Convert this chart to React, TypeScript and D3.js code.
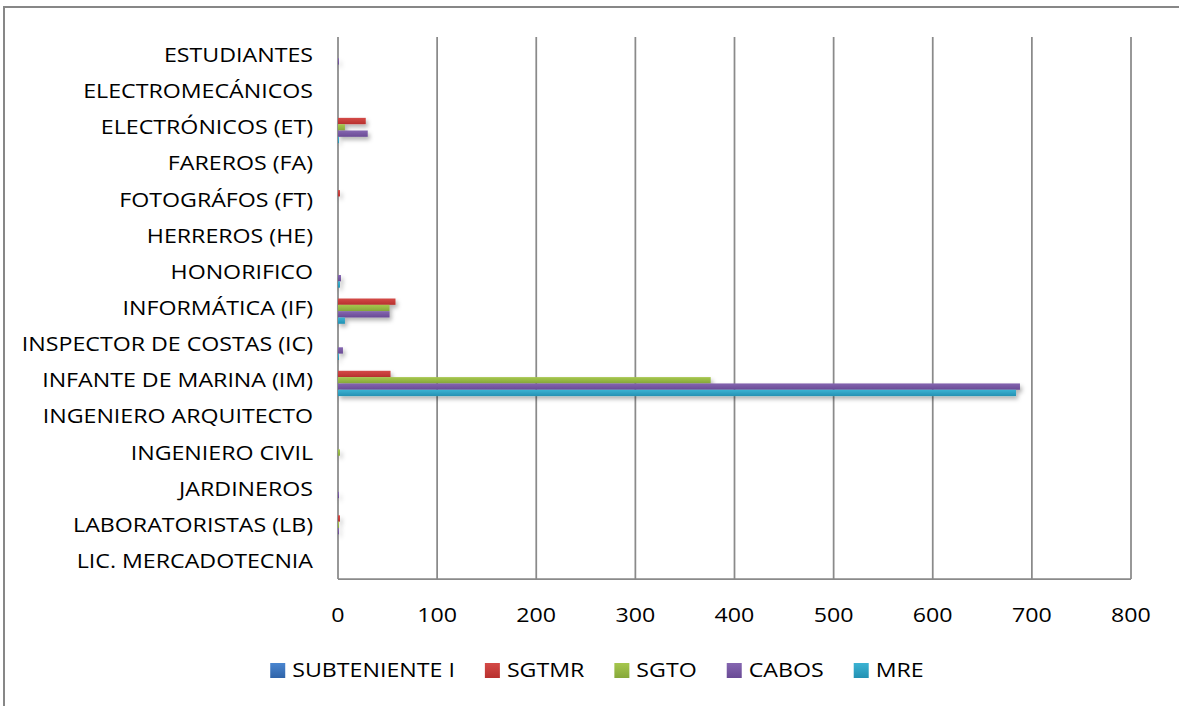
import React, { useEffect, useRef } from "react";
import * as d3 from "d3";

const categories = [
  "ESTUDIANTES",
  "ELECTROMECÁNICOS",
  "ELECTRÓNICOS (ET)",
  "FAREROS (FA)",
  "FOTOGRÁFOS (FT)",
  "HERREROS (HE)",
  "HONORIFICO",
  "INFORMÁTICA (IF)",
  "INSPECTOR DE COSTAS (IC)",
  "INFANTE DE MARINA (IM)",
  "INGENIERO ARQUITECTO",
  "INGENIERO CIVIL",
  "JARDINEROS",
  "LABORATORISTAS (LB)",
  "LIC. MERCADOTECNIA",
];

const seriesNames = ["SUBTENIENTE I", "SGTMR", "SGTO", "CABOS", "MRE"];

const subteniente = [0, 0, 0, 0, 0, 0, 0, 0, 0, 0, 0, 0, 0, 0, 0];
const sgtmr = [0, 0, 28, 0, 2, 0, 0, 58, 0, 53, 0, 0, 0, 2, 0];
const sgto = [0, 0, 7, 0, 0, 0, 0, 52, 0, 376, 0, 2, 0, 1, 0];
const cabos = [1, 0, 30, 0, 0, 0, 3, 52, 5, 688, 0, 0, 1, 1, 0];
const mre = [0, 0, 1, 0, 0, 0, 2, 7, 1, 684, 0, 0, 0, 0, 0];

const xTicks = [0, 100, 200, 300, 400, 500, 600, 700, 800];

const colors = [
  ["#4a86d0", "#2f63a8"],
  ["#d44a47", "#b8302e"],
  ["#a6c74e", "#86a83a"],
  ["#8566b0", "#694a95"],
  ["#3cb3d3", "#2391b3"],
];

export default function App() {
  const ref = useRef<SVGSVGElement>(null);

  useEffect(() => {
    const svg = d3.select(ref.current);
    svg.selectAll("*").remove();

    const font = "'Open Sans', sans-serif";
    const fs = 20;
    const stretch = 1.16; // the original text is drawn a bit wider
    const gridColor = "#8a8a8a";

    const left = 338, right = 1131, top = 37, bottom = 579;

    const defs = svg.append("defs");
    const f = defs.append("filter").attr("id", "shadow")
      .attr("x", "-5%").attr("y", "-50%").attr("width", "120%").attr("height", "250%");
    f.append("feDropShadow").attr("dx", 2).attr("dy", 3).attr("stdDeviation", 2)
      .attr("flood-color", "#000").attr("flood-opacity", 0.3);
    colors.forEach((c, i) => {
      const lg = defs.append("linearGradient").attr("id", `g${i}`)
        .attr("x1", 0).attr("y1", 0).attr("x2", 0).attr("y2", 1);
      lg.append("stop").attr("offset", "0%").attr("stop-color", c[0]);
      lg.append("stop").attr("offset", "100%").attr("stop-color", c[1]);
    });

    // outer frame
    svg.append("rect").attr("x", 4).attr("y", 7).attr("width", 1200).attr("height", 720)
      .attr("fill", "#fff").attr("stroke", "#878787").attr("stroke-width", 2);

    const x = d3.scaleLinear().domain([0, 800]).range([left, right]);
    const y = d3.scaleBand().domain(categories).range([top, bottom])
      .paddingInner(0.125).paddingOuter(0.0625);
    const ySub = d3.scaleBand().domain(seriesNames).range([0, y.bandwidth()]);

    // gridlines
    svg.append("g").selectAll("line").data(xTicks).join("line")
      .attr("x1", (d) => x(d)).attr("x2", (d) => x(d))
      .attr("y1", top).attr("y2", bottom)
      .attr("stroke", gridColor).attr("stroke-width", 1.75);
    svg.append("line").attr("x1", left).attr("x2", right).attr("y1", bottom).attr("y2", bottom)
      .attr("stroke", gridColor).attr("stroke-width", 1.75);

    // bars
    const all = [subteniente, sgtmr, sgto, cabos, mre];
    all.forEach((vals, si) => {
      svg.append("g").attr("filter", "url(#shadow)")
        .selectAll("rect").data(vals.map((v, i) => ({ v, c: categories[i] })).filter((d) => d.v > 0))
        .join("rect")
        .attr("x", x(0))
        .attr("y", (d) => y(d.c)! + ySub(seriesNames[si])!)
        .attr("width", (d) => x(d.v) - x(0))
        .attr("height", ySub.bandwidth())
        .attr("fill", `url(#g${si})`);
    });

    // category labels
    svg.append("g").selectAll("g").data(categories).join("g")
      .attr("transform", (d) => `translate(313,${y(d)! + y.bandwidth() / 2}) scale(${stretch},1)`)
      .append("text")
      .text((d) => d)
      .attr("dy", "0.35em")
      .attr("text-anchor", "end")
      .attr("font-family", font).attr("font-size", fs).attr("fill", "#000");

    // x tick labels
    svg.append("g").selectAll("g").data(xTicks).join("g")
      .attr("transform", (d) => `translate(${x(d)},622) scale(${stretch},1)`)
      .append("text")
      .text((d) => d)
      .attr("text-anchor", "middle")
      .attr("font-family", font).attr("font-size", fs).attr("fill", "#000");

    // legend
    const lg = svg.append("g");
    let cx = 0;
    const sq = 15;
    seriesNames.forEach((name, i) => {
      const item = lg.append("g").attr("transform", `translate(${cx},0)`);
      item.append("rect").attr("x", 0).attr("y", 663).attr("width", sq).attr("height", sq)
        .attr("fill", `url(#g${i})`);
      const t = item.append("g").attr("transform", `translate(${sq + 7},677) scale(${stretch},1)`)
        .append("text").text(name)
        .attr("font-family", font).attr("font-size", fs).attr("fill", "#000");
      const w = (t.node() as SVGTextElement).getComputedTextLength() * stretch;
      cx += sq + 7 + w + 30;
    });
    const total = cx - 30;
    lg.attr("transform", `translate(${597 - total / 2},0)`);
  }, []);

  return (
    <svg ref={ref} width={1179} height={706}
      style={{ position: "absolute", left: 0, top: 0, display: "block" }} />
  );
}
